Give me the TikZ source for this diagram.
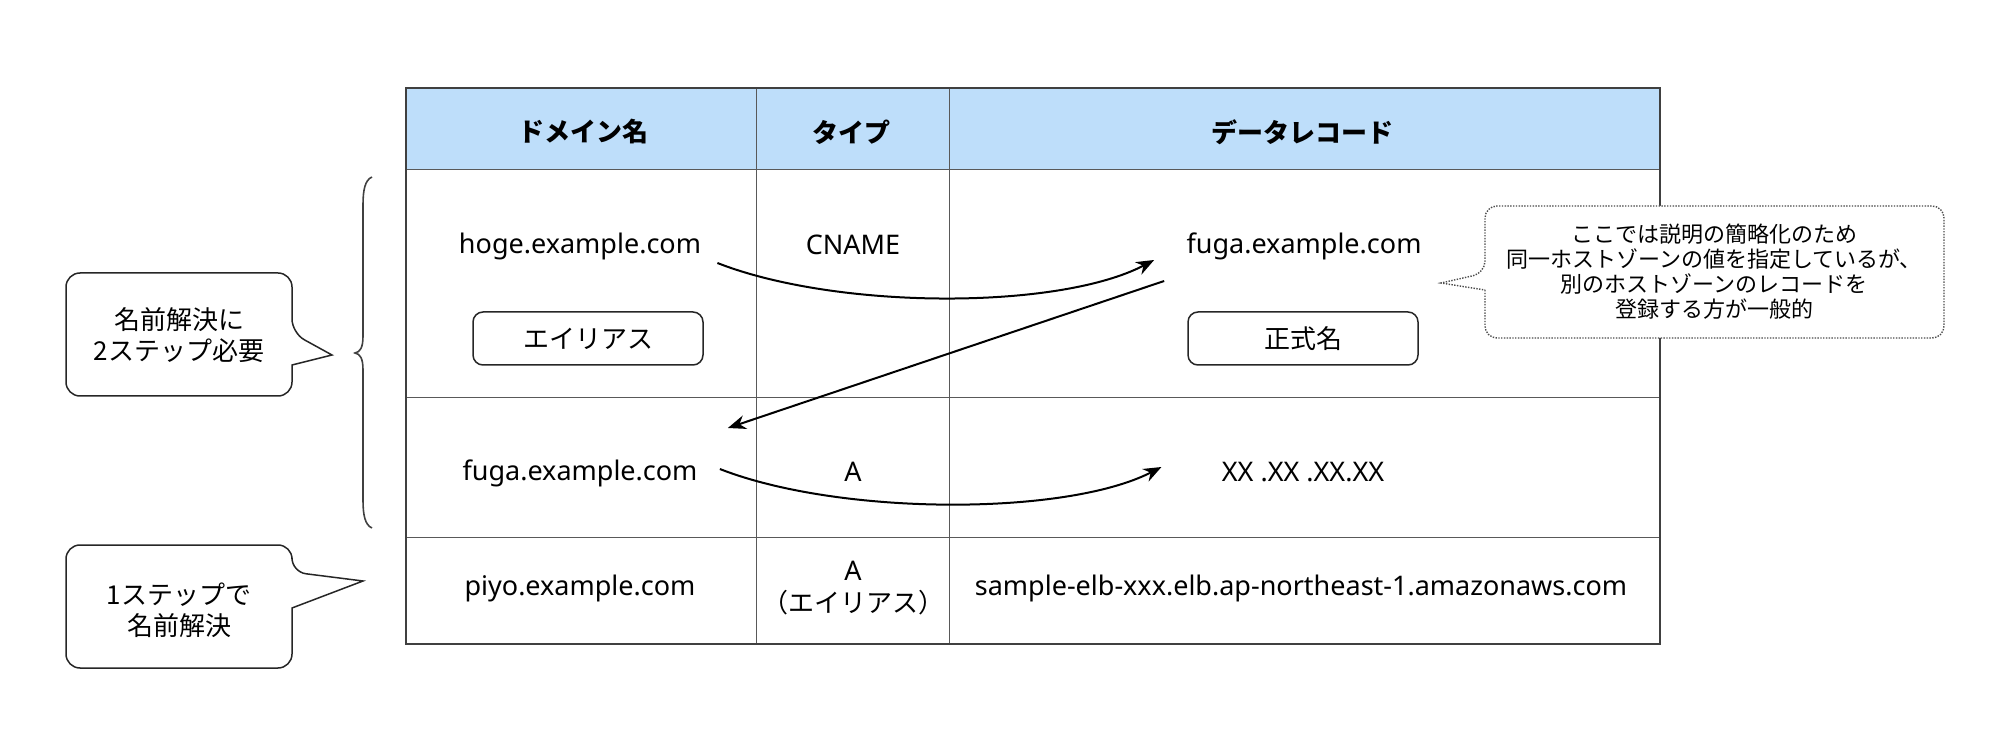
\documentclass[tikz,border=0pt]{standalone}
\usepackage{fontspec}
\setmainfont{Noto Sans}
\newfontfamily\jpfont{Noto Sans CJK JP}
\usepackage{tikz}
\usetikzlibrary{arrows.meta}

\definecolor{hdrblue}{RGB}{190,222,250}

\begin{document}
\begin{tikzpicture}[x=0.5pt,y=0.5pt,yscale=-1,xscale=1,
  txt/.style={font=\fontsize{13.5}{16}\selectfont, align=center, inner sep=0pt},
  jtxt/.style={font=\fontsize{13}{15.5}\selectfont\jpfont, align=center, inner sep=0pt},
  hdr/.style={font=\fontsize{13}{16}\selectfont\jpfont\bfseries, inner sep=0pt},
  tagbox/.style={draw=black!85, line width=0.75pt, rounded corners=5pt, minimum width=115pt, minimum height=26.5pt, font=\fontsize{13}{16}\selectfont\jpfont, inner sep=0pt},
  gridline/.style={draw=black!65, line width=0.5pt},
  bubble/.style={draw=black!85, fill=white, line width=0.75pt},
  flow/.style={line width=1pt, -{Stealth[length=9pt,width=7pt]}}]
%uncomment if require: \path (0,731); %set diagram left start at 0, and has height of 731
\useasboundingbox (0,0) rectangle (2000,731);

%Shape: Rectangle [header]
\fill[hdrblue] (406,88) rectangle (1660,170);

%Straight Lines [rows]
\draw[gridline] (406,170) -- (1660,170);
\draw[gridline] (406,398) -- (1660,398);
\draw[gridline] (406,537) -- (1660,537);

%Straight Lines [columns]
\draw[gridline] (756,88) -- (756,644);
\draw[gridline] (949,88) -- (949,644);

%Shape: Rectangle [table border]
\draw[draw=black!75, line width=0.7pt] (406,88) rectangle (1660,644);

% Text Node
\node[hdr] (hdom) at (583,132) {ドメイン名};
% Text Node
\node[hdr] (htype) at (851,132) {タイプ};
% Text Node
\node[hdr] (hdata) at (1302,132) {データレコード};

% Text Node
\node[txt] (hoge) at (580,246) {hoge.example.com};
% Text Node
\node[txt] (cname) at (853,245) {CNAME};
% Text Node
\node[txt] (fugaA) at (1304,246) {fuga.example.com};
% Text Node
\node[tagbox] (alias) at (588,338.5) {エイリアス};
% Text Node
\node[tagbox] (canon) at (1303,338.5) {正式名};

% Text Node
\node[txt] (fugaB) at (580,473) {fuga.example.com};
% Text Node
\node[txt] (typeA) at (853,472) {A};
% Text Node
\node[txt] (addr) at (1303,472) {XX .XX .XX.XX};

% Text Node
\node[txt] (piyo) at (580,588) {piyo.example.com};
% Text Node
\node[txt] (typeAlias) at (853,588) {A\\{\jpfont\fontsize{13}{16}\selectfont （エイリアス）}};
% Text Node
\node[txt] (elb) at (1301,588) {sample-elb-xxx.elb.ap-northeast-1.amazonaws.com};

%Curve Lines [cname]
\draw[flow] ([xshift=8pt,yshift=8.5pt]hoge.east) .. controls +(120,47) and +(-95,50) .. ([xshift=-16pt,yshift=7pt]fugaA.west);
%Straight Lines [lookup]
\draw[flow] ([xshift=-11pt,yshift=17.5pt]fugaA.west) -- ([xshift=15pt,yshift=-22.5pt]fugaB.east);
%Curve Lines [a record]
\draw[flow] ([xshift=11pt,yshift=-2pt]fugaB.east) .. controls +(120,47) and +(-95,49) .. ([xshift=-30pt,yshift=-2.5pt]addr.west);

%Curve Lines [brace]
\draw[draw=black!75, line width=0.8pt] (372,177) .. controls (365,180) and (363,190) .. (363,205) -- (363,336) .. controls (363,348) and (360,352) .. (355,353) .. controls (360,354) and (363,358) .. (363,370) -- (363,500) .. controls (363,515) and (365,525) .. (372,528);

%Shape: Callout [two steps]
\draw[bubble] (292,365) [rounded corners=7pt] -- (292,396) -- (66,396) -- (66,273) -- (292,273) -- (292,333) [sharp corners] -- (332,355) -- cycle;
% Text Node
\node[jtxt] (twostep) at (179,335) {名前解決に\\2ステップ必要};

%Shape: Callout [one step]
\draw[bubble] (292,608) [rounded corners=7pt] -- (292,668) -- (66,668) -- (66,545) -- (292,545) -- (292,572) [sharp corners] -- (363,581) -- cycle;
% Text Node
\node[jtxt] (onestep) at (179,610) {1ステップで\\名前解決};

%Shape: Callout [note]
\draw[draw=black!70, fill=white, line width=0.7pt, dash pattern=on 0.7pt off 0.7pt] (1485,290) [rounded corners=6pt] -- (1485,338) -- (1944,338) -- (1944,206) -- (1485,206) -- (1485,273) [sharp corners] -- (1441,283) -- cycle;
% Text Node
\node[font=\fontsize{11}{12.5}\selectfont\jpfont, align=center, inner sep=0pt] (note) at (1714,272) {ここでは説明の簡略化のため\\同一ホストゾーンの値を指定しているが、\\別のホストゾーンのレコードを\\登録する方が一般的};
\end{tikzpicture}
\end{document}
